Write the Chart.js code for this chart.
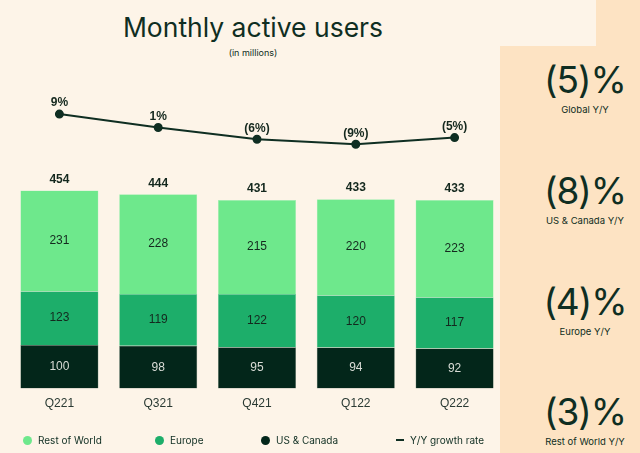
<!DOCTYPE html>
<html>
<head>
<meta charset="utf-8">
<script src="https://cdn.jsdelivr.net/npm/chart.js@4"></script>
<style>
  html, body { margin: 0; padding: 0; }
  body { width: 640px; height: 453px; background: #fdf4e8; position: relative; overflow: hidden; font-family: "Inter", "Liberation Sans", sans-serif; color: #0f2e22; }
  .panel { position: absolute; background: #fde3c3; }
  #wrap { position: absolute; left: 0; top: 0; width: 640px; height: 453px; }
  .title { position: absolute; left: 0; width: 506px; top: 11px; text-align: center; font-size: 26.5px; }
  .sub { position: absolute; left: 0; width: 506px; top: 47px; text-align: center; font-size: 9px; }
  .stat { position: absolute; left: 500px; width: 170px; text-align: center; }
  .stat .big { font-size: 37px; line-height: 38px; letter-spacing: -1px; }
  .stat .lbl { font-size: 9.5px; line-height: 11px; margin-top: 5px; }
  .legend { position: absolute; top: 434px; font-size: 10px; display: flex; align-items: center; }
  .dot { width: 9px; height: 9px; border-radius: 50%; margin-right: 6px; }
  .dash { width: 8px; height: 2px; background: #0f2e22; margin-right: 6px; }
</style>
</head>
<body>
<div class="panel" style="left:500px; top:46px; width:140px; height:407px;"></div>
<div class="panel" style="left:596px; top:0; width:44px; height:46px;"></div>
<div class="title">Monthly active users</div>
<div class="sub">(in millions)</div>

<div class="stat" style="top:61px;"><div class="big">(5)%</div><div class="lbl">Global Y/Y</div></div>
<div class="stat" style="top:172px;"><div class="big">(8)%</div><div class="lbl">US &amp; Canada Y/Y</div></div>
<div class="stat" style="top:283px;"><div class="big">(4)%</div><div class="lbl">Europe Y/Y</div></div>
<div class="stat" style="top:393px;"><div class="big">(3)%</div><div class="lbl">Rest of World Y/Y</div></div>

<div id="wrap"><canvas id="myChart" width="640" height="453"></canvas></div>

<div class="legend" style="left:23px;"><span class="dot" style="background:#6ee88c"></span>Rest of World</div>
<div class="legend" style="left:155px;"><span class="dot" style="background:#1dae6a"></span>Europe</div>
<div class="legend" style="left:261px;"><span class="dot" style="background:#03261a"></span>US &amp; Canada</div>
<div class="legend" style="left:396px;"><span class="dash"></span>Y/Y growth rate</div>

<script>
var quarters = ['Q221', 'Q321', 'Q421', 'Q122', 'Q222'];
var usCanada = [100, 98, 95, 94, 92];
var europe = [123, 119, 122, 120, 117];
var restOfWorld = [231, 228, 215, 220, 223];
var totals = [454, 444, 431, 433, 433];
var growth = [9, 1, -6, -9, -5];

function growthLabel(v) {
  return v < 0 ? '(' + Math.abs(v) + '%)' : v + '%';
}

var labelPlugin = {
  id: 'valueLabels',
  afterDatasetsDraw: function(chart) {
    var ctx = chart.ctx;
    ctx.save();
    ctx.textAlign = 'center';
    ctx.textBaseline = 'middle';
    // segment values
    [0, 1, 2].forEach(function(i) {
      var ds = chart.data.datasets[i];
      chart.getDatasetMeta(i).data.forEach(function(bar, j) {
        var p = bar.getProps(['x', 'y', 'base'], true);
        ctx.font = '12px "Liberation Sans", Arial, sans-serif';
        ctx.fillStyle = i === 0 ? '#d9dcd6' : '#14281e';
        ctx.fillText(ds.data[j], p.x, (p.y + p.base) / 2);
      });
    });
    // totals
    chart.getDatasetMeta(2).data.forEach(function(bar, j) {
      ctx.font = 'bold 12px "Liberation Sans", Arial, sans-serif';
      ctx.fillStyle = '#14281e';
      ctx.fillText(totals[j], bar.x, bar.y - 11);
    });
    // growth labels
    chart.getDatasetMeta(3).data.forEach(function(pt, j) {
      ctx.font = 'bold 12px "Liberation Sans", Arial, sans-serif';
      ctx.fillStyle = '#14281e';
      ctx.fillText(growthLabel(growth[j]), pt.x, pt.y - 11);
    });
    ctx.restore();
  }
};

var ctx = document.getElementById('myChart');
var myChart = new Chart(ctx, {
  data: {
    labels: quarters,
    datasets: [
      { type: 'bar', label: 'US & Canada', data: usCanada, backgroundColor: '#03261a', borderColor: '#5e7a6a', borderWidth: 0.5, order: 2 },
      { type: 'bar', label: 'Europe', data: europe, backgroundColor: '#1dae6a', borderColor: '#6fd49a', borderWidth: 0.5, order: 2 },
      { type: 'bar', label: 'Rest of World', data: restOfWorld, backgroundColor: '#6ee88c', borderColor: '#a6f0b8', borderWidth: 0.5, order: 2 },
      {
        type: 'line', label: 'Y/Y growth rate', data: growth, yAxisID: 'y2', order: 1,
        borderColor: '#0f2e22', borderWidth: 2, pointRadius: 3.5,
        pointBackgroundColor: '#0f2e22', pointBorderColor: '#0f2e22', tension: 0
      }
    ]
  },
  options: {
    responsive: false,
    animation: false,
    layout: { padding: { left: 10, right: 136, top: 80, bottom: 42 } },
    datasets: { bar: { barPercentage: 0.79, categoryPercentage: 1 } },
    plugins: { legend: { display: false }, tooltip: { enabled: false } },
    scales: {
      x: {
        stacked: true,
        grid: { display: false },
        border: { display: false },
        ticks: { color: '#2a3a33', padding: 0, font: { size: 12, family: '"Liberation Sans", Arial, sans-serif' } }
      },
      y: { stacked: true, display: false, min: 0, max: 707 },
      y2: { display: false, min: -154.5, max: 29.3 }
    }
  },
  plugins: [labelPlugin]
});
</script>
</body>
</html>
